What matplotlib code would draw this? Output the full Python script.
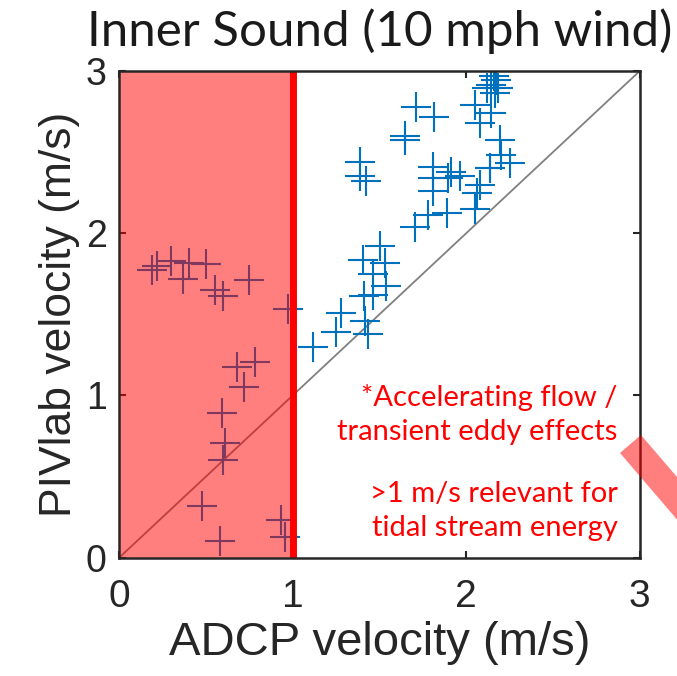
import numpy as np
import matplotlib
matplotlib.use("Agg")
import matplotlib.pyplot as plt
from matplotlib.patches import Polygon

# ADCP (x) vs PIVlab (y) velocity, m/s
adcp_slow = [0.19, 0.22, 0.30, 0.40, 0.37, 0.50, 0.555, 0.60, 0.75, 0.975,
             0.68, 0.78, 0.72, 0.59, 0.61, 0.60, 0.48, 0.58, 0.93, 0.955]
piv_slow = [1.775, 1.795, 1.83, 1.815, 1.72, 1.81, 1.65, 1.61, 1.71, 1.53,
            1.175, 1.205, 1.05, 0.89, 0.71, 0.60, 0.32, 0.10, 0.235, 0.125]

adcp_fast = [1.115, 1.25, 1.278, 1.416, 1.435, 1.41, 1.465, 1.465, 1.537, 1.53,
             1.407, 1.503, 1.387, 1.387, 1.42, 1.708, 1.815, 1.65, 1.646, 1.704,
             1.78, 1.81, 1.81, 1.81, 1.915, 1.963, 1.896, 2.078, 2.06, 2.05,
             1.887, 2.136, 2.05, 2.078, 2.145, 2.117, 2.145, 2.17, 2.184, 2.165,
             2.197, 2.20, 2.25, 2.136, 2.16]
piv_fast = [1.30, 1.394, 1.511, 1.456, 1.38, 1.61, 1.62, 1.75, 1.672, 1.815,
            1.836, 1.92, 2.44, 2.35, 2.32, 2.78, 2.715, 2.60, 2.575, 2.04,
            2.11, 2.41, 2.34, 2.26, 2.38, 2.35, 2.34, 2.30, 2.247, 2.147,
            2.124, 2.40, 2.79, 2.68, 2.74, 2.894, 2.914, 2.945, 2.894, 2.863,
            2.575, 2.483, 2.43, 2.40, 2.97]

threshold = 1.0
lims = [0, 3]
ticks = [0, 1, 2, 3]

fig = plt.figure(figsize=(6.77, 6.76), dpi=100)
ax = fig.add_axes([0.176, 0.175, 0.769, 0.720])

ax.plot(lims, lims, color="#808080", lw=1.3, zorder=1)
ax.plot(adcp_slow + adcp_fast, piv_slow + piv_fast, linestyle="none", marker="+",
        markersize=21, mew=1.5, color="#0072BD", zorder=2)

# shaded region below the tidal energy threshold
ax.axvspan(0, threshold, color="red", alpha=0.5, lw=0, zorder=3)
ax.axvline(threshold, color="red", lw=5, zorder=4)

ax.set_xlim(lims)
ax.set_ylim(lims)
ax.set_xticks(ticks)
ax.set_yticks(ticks)
ax.tick_params(direction="in", length=5, width=1.5, top=True, right=True,
               colors="#262626")
ax.tick_params(axis="x", labelsize=28, pad=15)
ax.tick_params(axis="y", labelsize=27, pad=9)
for lab in ax.get_xticklabels() + ax.get_yticklabels():
    lab.set_family("Liberation Sans")
    lab.set_color("#262626")
for s in ax.spines.values():
    s.set_linewidth(1.8)
    s.set_color("#262626")
    s.set_zorder(5)

ax.set_xlabel("ADCP velocity (m/s)", fontsize=34, family="Liberation Sans",
              color="#262626", labelpad=5)
ax.set_ylabel("PIVlab velocity (m/s)", fontsize=32, family="Liberation Sans",
              color="#262626", labelpad=4)
ax.set_title("Inner Sound (10 mph wind)", fontsize=35.5, family="Lato",
             color="#1a1a1a", pad=18)

ax.text(2.873, 0.727, "*Accelerating flow /\ntransient eddy effects", color="red",
        fontsize=21, family="Lato", ha="right", va="baseline", linespacing=1.38)
ax.text(2.873, 0.135, ">1 m/s relevant for\ntidal stream energy", color="red",
        fontsize=21, family="Lato", ha="right", va="baseline", linespacing=1.38)

# translucent arrow stub at the lower right edge
W, H = 677, 676
stub = [(620, 453), (641, 435), (677, 477), (677, 519.5)]
fig.patches.append(Polygon([(x / W, 1 - y / H) for x, y in stub], closed=True,
                           transform=fig.transFigure, facecolor="red", alpha=0.5,
                           lw=0, zorder=10))

fig.savefig("out.png", dpi=100)
